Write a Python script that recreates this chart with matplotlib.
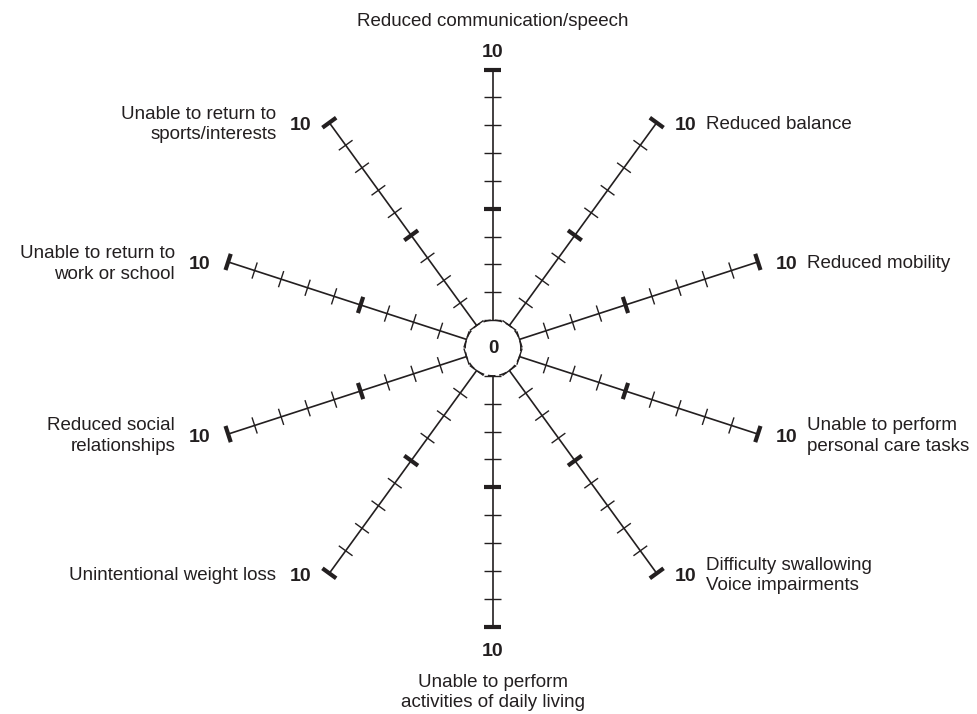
import numpy as np
import matplotlib.pyplot as plt

# spokes, clockwise from the top
labels = ['Reduced communication/speech', 'Reduced balance', 'Reduced mobility',
          'Unable to perform\npersonal care tasks', 'Difficulty swallowing\nVoice impairments',
          'Unable to perform\nactivities of daily living', 'Unintentional weight loss',
          'Reduced social\nrelationships', 'Unable to return to\nwork or school',
          'Unable to return to\nsports/interests']
scale_min = 0
scale_max = 10
major_ticks = [5, 10]

ink = '#231f20'
plt.rcParams['font.family'] = ['Liberation Sans', 'DejaVu Sans']

fig = plt.figure(figsize=(9.78, 7.14), dpi=100)
ax = fig.add_axes([0, 0, 1, 1])
px = 27.85  # pixels per scale unit
ax.set_xlim(-493 / px, (978 - 493) / px)
ax.set_ylim(-(714 - 348) / px, 348 / px)
ax.axis('off')

n = len(labels)
angles = np.deg2rad(90 - 360 / n * np.arange(n))

# dashed centre circle
t = np.linspace(0, 2 * np.pi, 400)
ax.plot(np.cos(t), np.sin(t), color=ink, lw=1.1, ls=(0, (5, 2.5)))
ax.text(0, 0, str(scale_min), ha='center', va='center', fontsize=13.5,
        fontweight='bold', color=ink)

tick_half = 8.5 / px
for i, (lab, a) in enumerate(zip(labels, angles)):
    ux, uy = np.cos(a), np.sin(a)
    nx, ny = -uy, ux
    ax.plot([ux * 1, ux * scale_max], [uy * 1, uy * scale_max], color=ink, lw=1.2,
            solid_capstyle='butt')
    for v in range(1, scale_max + 1):
        cx, cy = ux * v, uy * v
        lw = 3.0 if v in major_ticks else 1.0
        ax.plot([cx - nx * tick_half, cx + nx * tick_half],
                [cy - ny * tick_half, cy + ny * tick_half], color=ink, lw=lw,
                solid_capstyle='butt')

    ex, ey = ux * scale_max, uy * scale_max
    if abs(ux) < 0.01:
        # top / bottom
        s = np.sign(uy)
        nx10, ny10 = ex, ey + s * (17 if s > 0 else 25) / px
        ax.text(nx10, ny10, str(scale_max), ha='center', va='center', fontsize=14,
                fontweight='bold', color=ink)
        ly = ny10 + s * (31 if s > 0 else 41) / px
        ax.text(ex, ly, lab, ha='center', va='center', fontsize=13.5, color=ink,
                linespacing=1.25)
    else:
        s = np.sign(ux)
        tx = ex + s * 29 / px
        ty = ey - 3 / px
        ax.text(tx, ty, str(scale_max), ha='center', va='center', fontsize=14,
                fontweight='bold', color=ink)
        gap = 20 if s > 0 else 24
        ax.text(tx + s * gap / px, ty + 1 / px, lab, ha='left' if s > 0 else 'right',
                va='center', fontsize=13.5, color=ink, linespacing=1.25,
                multialignment='left' if s > 0 else 'right')

fig.savefig('out.png', dpi=100, facecolor='white')
